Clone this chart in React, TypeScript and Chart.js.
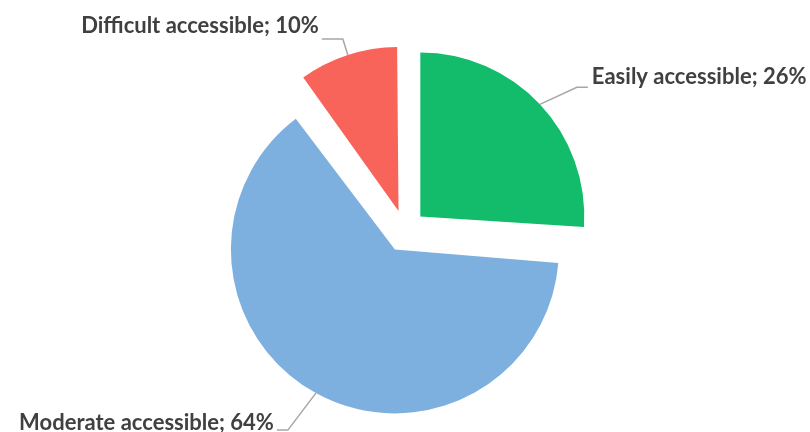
import React, { useEffect, useRef } from "react";
import { Chart, registerables } from "chart.js";

Chart.register(...registerables);

const categories = ["Easily accessible", "Moderate accessible", "Difficult accessible"];
const shares = [26, 64, 10];
const sliceColors = ["#12BC6B", "#7EB0DF", "#F8635A"];

// leader line shapes relative to slice edge (style only)
const leaderShapes = [
  { ext: [37, -17], run: 11, align: "left", textDy: -10 },
  { ext: [-28, 37], run: -11, align: "right", textDy: -7 },
  { ext: [-5, -16], run: -21, align: "right", textDy: -13 },
];

const SLICE_SHIFT = 21;
const RADIUS = 164;

// keep every exploded slice at the same radius (Chart.js enlarges wide slices by the offset)
const equalRadiusPlugin = {
  id: "equalRadius",
  afterUpdate(chart: any) {
    const meta = chart.getDatasetMeta(0);
    meta.data.forEach((arc: any) => {
      const off = SLICE_SHIFT;
      const fix = 1 - Math.sin(Math.min(Math.PI, arc.circumference || 0));
      arc.outerRadius = RADIUS - off * fix;
    });
  },
};

const labelPlugin = {
  id: "pieLabels",
  afterDatasetsDraw(chart: any) {
    const ctx = chart.ctx;
    const meta = chart.getDatasetMeta(0);
    ctx.save();
    meta.data.forEach((arc: any, i: number) => {
      const p = arc.getProps(["x", "y", "startAngle", "endAngle"], true);
      const mid = (p.startAngle + p.endAngle) / 2;
      const cx = p.x + Math.cos(mid) * SLICE_SHIFT;
      const cy = p.y + Math.sin(mid) * SLICE_SHIFT;
      const ax = cx + Math.cos(mid) * RADIUS;
      const ay = cy + Math.sin(mid) * RADIUS;
      const s = leaderShapes[i];
      const bx = ax + s.ext[0];
      const by = ay + s.ext[1];
      const ex = bx + s.run;
      ctx.strokeStyle = "#A6A6A6";
      ctx.lineWidth = 1.5;
      ctx.beginPath();
      ctx.moveTo(ax, ay);
      ctx.lineTo(bx, by);
      ctx.lineTo(ex, by);
      ctx.stroke();
      ctx.fillStyle = "#404040";
      ctx.font = "bold 22px Lato";
      ctx.textBaseline = "middle";
      ctx.textAlign = s.align;
      const tx = s.align === "left" ? ex + 4 : ex - 3;
      ctx.fillText(`${categories[i]}; ${shares[i]}%`, tx, by + s.textDy);
    });
    ctx.restore();
  },
};

export default function App() {
  const ref = useRef<HTMLCanvasElement>(null);
  useEffect(() => {
    document.body.style.margin = "0";
    const chart = new Chart(ref.current!, {
      type: "pie",
      data: {
        labels: categories,
        datasets: [
          {
            data: shares,
            backgroundColor: sliceColors,
            borderWidth: 0,
            offset: SLICE_SHIFT * 4,
            radius: RADIUS,
          } as any,
        ],
      },
      options: {
        responsive: false,
        animation: false,
        layout: { padding: { top: 30, bottom: 0, left: 0, right: 0 } },
        plugins: { legend: { display: false }, tooltip: { enabled: false } },
      },
      plugins: [equalRadiusPlugin, labelPlugin],
    });
    return () => chart.destroy();
  }, []);
  return (
    <div style={{ width: 810, height: 432, background: "#fff" }}>
      <canvas ref={ref} width={810} height={432} />
    </div>
  );
}
